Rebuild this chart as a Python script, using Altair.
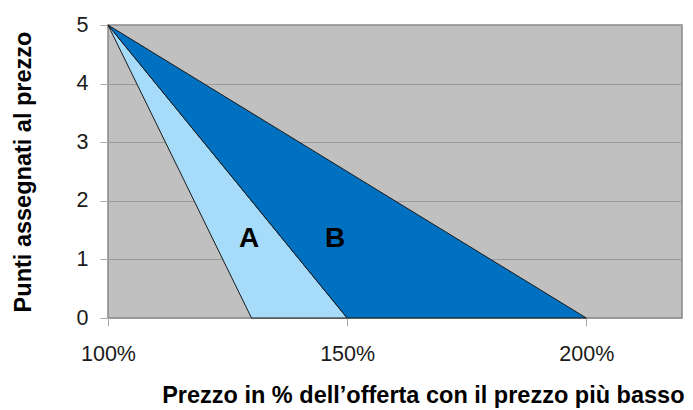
import altair as alt
import pandas as pd

# Data
y_pts = [5, 0]
a_left = [100, 130]
a_right = [100, 150]
b_left = [100, 150]
b_right = [100, 200]
label_text = ["A", "B"]
label_x = [129.5, 147.5]
label_y = [1.21, 1.21]
x_ticks = [100, 150, 200]
y_ticks = [0, 1, 2, 3, 4, 5]

df = pd.DataFrame({
    "y": y_pts * 2,
    "x": a_left + b_left,
    "x2": a_right + b_right,
    "s": ["A"] * 2 + ["B"] * 2,
})
lab = pd.DataFrame({"t": label_text, "x": label_x, "y": label_y})

FONT = "Liberation Sans"
W, H = 574, 293
xscale = alt.Scale(domain=[100, 220], nice=False, zero=False)
yscale = alt.Scale(domain=[0, 5], nice=False)

xaxis = alt.Axis(
    values=x_ticks, labelExpr="datum.value + '%'", grid=False, labelFlush=False,
    title="Prezzo in % dell\u2019offerta con il prezzo pi\u00f9 basso",
    titleFont=FONT, titleFontSize=23.5, titleFontWeight="bold", titleColor="#000",
    titleAlign="right", titleX=W + 2, titlePadding=19,
    labelFont=FONT, labelFontSize=21.5, labelColor="#1a1a1a", labelPadding=17,
    tickSize=8, tickColor="#aaaaaa", domain=False,
)
yaxis = alt.Axis(
    values=y_ticks, format="d", grid=True, gridColor="#9a9a9a", gridWidth=1,
    title="Punti assegnati al prezzo",
    titleFont=FONT, titleFontSize=23.5, titleFontWeight="bold", titleColor="#000",
    titlePadding=41,
    labelFont=FONT, labelFontSize=21.5, labelColor="#1a1a1a", labelPadding=12,
    tickSize=8, tickColor="#aaaaaa", domain=False,
)

area = alt.Chart(df).mark_area(orient="horizontal", stroke="#1a1a1a", strokeWidth=1).encode(
    y=alt.Y("y:Q", scale=yscale, axis=yaxis),
    x=alt.X("x:Q", scale=xscale, axis=xaxis),
    x2="x2:Q",
    color=alt.Color("s:N", scale=alt.Scale(domain=["A", "B"], range=["#a6dcfa", "#0070c0"]), legend=None),
)

text = alt.Chart(lab).mark_text(font=FONT, fontSize=28, fontWeight="bold", color="#000",
                                baseline="alphabetic", align="center").encode(
    x=alt.X("x:Q", scale=xscale),
    y=alt.Y("y:Q", scale=yscale),
    text="t:N",
)

chart = (area + text).properties(
    width=W, height=H,
    autosize=alt.AutoSizeParams(type="none"),
    padding={"left": 100, "top": 17, "right": 3, "bottom": 90},
    background="#ffffff",
).configure_view(fill="#c0c0c0", stroke="#888888", strokeWidth=1.5)

chart.save("out.html", embed_options={"renderer": "svg", "actions": False})
